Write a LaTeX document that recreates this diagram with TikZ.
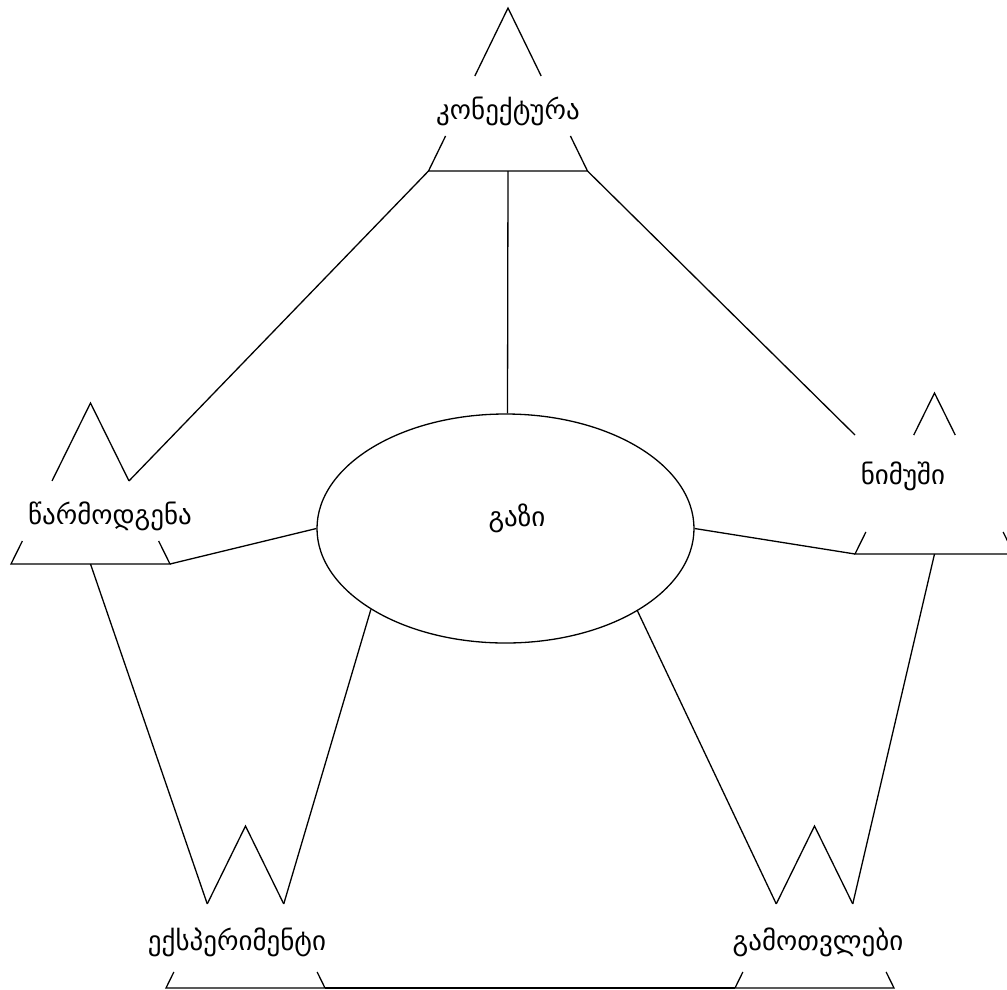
\documentclass[tikz,border=0pt]{standalone}
\usepackage{fontspec}
\setmainfont{DejaVu Sans}
\usetikzlibrary{calc,shapes.geometric}
\newcommand\gtri[6]{%
  \coordinate (#1-a) at (#2,#3);
  \coordinate (#1-l) at ($(#2,#3)+(-79.5,#4)$);
  \coordinate (#1-r) at ($(#2,#3)+(79.5,#4)$);
  \coordinate (#1-b) at ($(#1-l)!0.5!(#1-r)$);
  \coordinate (#1-l1) at ($(#1-a)!#5!(#1-l)$);
  \coordinate (#1-l2) at ($(#1-a)!#6!(#1-l)$);
  \coordinate (#1-r1) at ($(#1-a)!#5!(#1-r)$);
  \coordinate (#1-r2) at ($(#1-a)!#6!(#1-r)$);
  \draw[tri] (#1-l1) -- (#1-a) -- (#1-r1);
  \draw[tri] (#1-l2) -- (#1-l) -- (#1-r) -- (#1-r2);
}
\begin{document}
\begin{tikzpicture}[x=1pt,y=-1pt,
  tri/.style={line width=1.3pt, line join=miter},
  conn/.style={line width=1.3pt},
  lbl/.style={inner sep=0pt, font=\fontsize{27}{32}\selectfont}]
\useasboundingbox (0,0) rectangle (1007,989);
\clip (0,0) rectangle (1007,989);
\fill[white] (0,0) rectangle (1007,989);

\gtri{kon}{508}{8}{163}{0.417}{0.785}
\gtri{tsar}{90.5}{403}{161}{0.484}{0.857}
\gtri{nim}{934.5}{393}{161}{0.261}{0.863}
\gtri{eks}{245.5}{826}{162}{0.481}{0.901}
\gtri{gam}{814.5}{826}{162}{0.481}{0.901}

\node[draw, ellipse, line width=1.3pt, minimum width=377pt, minimum height=229pt, inner sep=0pt] (gazi) at (505.5,528.5) {};
\coordinate (nim-e) at (855,435);

\node[lbl] (kon-t) at (508,111) {კონექტურა};
\node[lbl] (tsar-t) at (110,516) {წარმოდგენა};
\node[lbl] (nim-t) at (903,476) {ნიმუში};
\node[lbl] (gazi-t) at (517,518) {გაზი};
\node[lbl] (eks-t) at (237,942) {ექსპერიმენტი};
\node[lbl] (gam-t) at (818,942) {გამოთვლები};

\draw[conn] (kon-l) -- (tsar-r1);
\draw[conn] (kon-b) -- (gazi.89);
\draw[conn] (kon-r) -- (nim-e);
\draw[conn] (tsar-r) -- (gazi.west);
\draw[conn] (gazi.east) -- (nim-l);
\draw[conn] (tsar-b) -- (eks-l1);
\draw[conn] (gazi.211.6) -- (eks-r1);
\draw[conn] (gazi.328.8) -- (gam-l1);
\draw[conn] (nim-b) -- (gam-r1);
\draw[conn] (eks-r) -- (gam-l);
\end{tikzpicture}
\end{document}
